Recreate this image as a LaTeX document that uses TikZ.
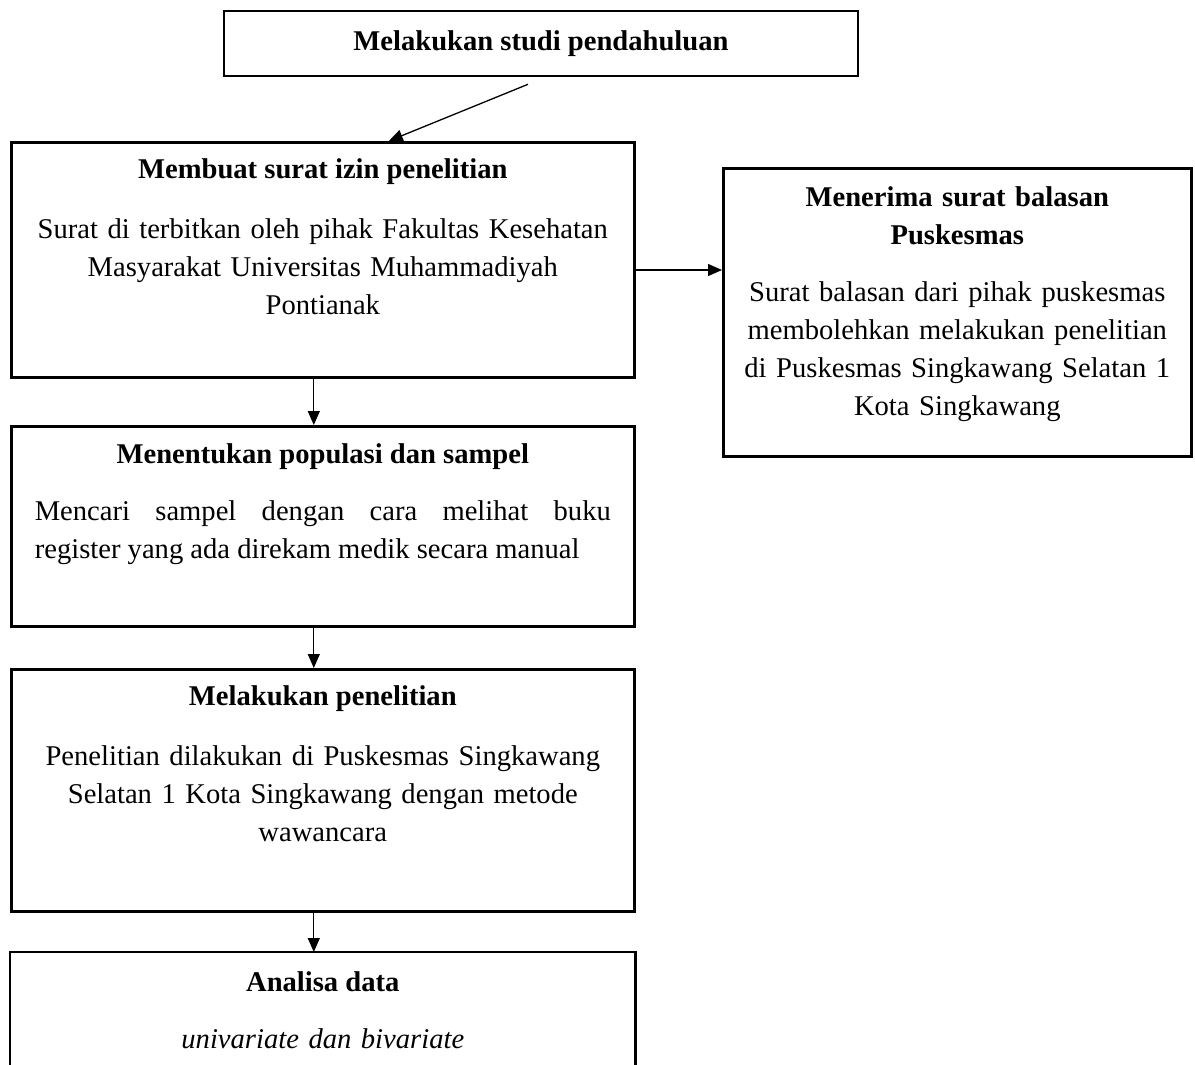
\documentclass[tikz,border=0pt]{standalone}
\usepackage{fontspec}
\setmainfont{Liberation Serif}
\usepackage{tikz}
\usetikzlibrary{positioning,calc,arrows.meta}
\newcommand{\ukuran}{\fontsize{28.6}{38}\selectfont}
\tikzstyle{kotak} = [rectangle, draw, line width=2.6pt, inner sep=0pt,
                     minimum width=623pt, anchor=north west]
\tikzstyle{judul} = [inner sep=0pt, anchor=base, font=\ukuran\bfseries]
\tikzstyle{isi}   = [inner sep=0pt, anchor=base, align=center,
                     text width=600pt, font=\ukuran]
\tikzstyle{panah} = [->, line width=1.3pt]

\begin{document}
\begin{tikzpicture}[x=1pt, y=-1pt, >={Triangle[length=14pt,width=12pt]}]
  \useasboundingbox (0,0) rectangle (1195,1065);

  % atas
  \node[kotak, anchor=center, minimum width=634pt, minimum height=65pt,
        font=\ukuran\bfseries] (studi) at (541,43.5) {Melakukan studi pendahuluan};

  % kolom kiri
  \node[kotak, minimum height=235pt] (izin) at (10,141) {};
  \node[below=37pt of izin.north, judul] (izin-j) {Membuat surat izin penelitian};
  \node[below=97pt of izin.north, isi] (izin-t)
    {Surat di terbitkan oleh pihak Fakultas Kesehatan\\
     Masyarakat Universitas Muhammadiyah\\Pontianak};

  \node[kotak, minimum height=200pt] (populasi) at (10,425) {};
  \node[below=38pt of populasi.north, judul] (populasi-j) {Menentukan populasi dan sampel};
  \node[below=95pt of populasi.north, isi, align=justify, text width=576pt] (populasi-t)
    {Mencari sampel dengan cara melihat buku\linebreak
     register yang ada direkam medik secara manual};

  \node[kotak, minimum height=242pt] (penelitian) at (10,668) {};
  \node[below=37pt of penelitian.north, judul] (penelitian-j) {Melakukan penelitian};
  \node[below=97pt of penelitian.north, isi] (penelitian-t)
    {Penelitian dilakukan di Puskesmas Singkawang\\
     Selatan 1 Kota Singkawang dengan metode\\wawancara};

  \node[kotak, draw=none, minimum height=130pt] (analisa) at (10,952) {};
  \draw[line width=2.6pt] (analisa.south west) -- (analisa.north west)
    -- (analisa.north east) -- (analisa.south east);
  \node[below=39pt of analisa.north, judul] (analisa-j) {Analisa data};
  \node[below=96pt of analisa.north, isi, font=\ukuran\itshape] (analisa-t)
    {univariate dan bivariate};

  % kanan
  \node[kotak, minimum width=468pt, minimum height=288pt] (balasan) at (722,167) {};
  \node[below=39pt of balasan.north, judul, align=center, text width=450pt] (balasan-j)
    {Menerima surat balasan\\Puskesmas};
  \node[below=134pt of balasan.north, isi, text width=450pt] (balasan-t)
    {Surat balasan dari pihak puskesmas\\membolehkan melakukan penelitian\\
     di Puskesmas Singkawang Selatan 1\\Kota Singkawang};

  % panah
  \coordinate (s1) at ($(studi.south)+(-13,7)$);
  \draw[panah] (s1) -- ($(izin.north)+(66,0)$);
  \coordinate (h1) at ($(izin.north east)+(0,129)$);
  \draw[panah] (h1) -- (h1 -| balasan.west);
  \draw[panah] ([xshift=-9pt]izin.south) -- ([xshift=-9pt]populasi.north);
  \draw[panah] ([xshift=-9pt]populasi.south) -- ([xshift=-9pt]penelitian.north);
  \draw[panah] ([xshift=-9pt]penelitian.south) -- ([xshift=-9pt]analisa.north);

\end{tikzpicture}
\end{document}
